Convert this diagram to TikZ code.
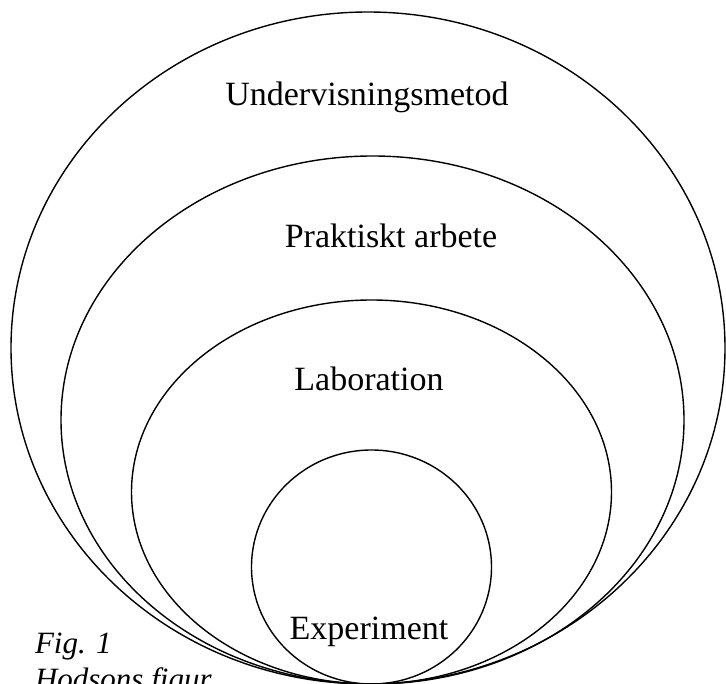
\documentclass[tikz,border=0pt]{standalone}
\usepackage{fontspec}
\setmainfont{Liberation Serif}
\usetikzlibrary{shapes.geometric}

\def \ringline {1.4pt}
\def \labelsize {34}

\begin{document}
\begin{tikzpicture}[x=1pt, y=-1pt, line width=\ringline,
  ring/.style={draw, ellipse, inner sep=0pt, outer sep=0pt},
  ringlabel/.style={anchor=base, font=\fontsize{\labelsize}{40}\selectfont},
  caption/.style={anchor=base west, font=\itshape\fontsize{31}{36}\selectfont}]
\useasboundingbox (0,0) rectangle (726,684);
\clip (0,0) rectangle (726,684);
% nested rings, all touching the bottom edge
\node[ring, minimum width=714pt, minimum height=672pt] (metod) at (368,348) {};
\node[ring, minimum width=623pt, minimum height=528pt] (praktiskt) at (372.5,420) {};
\node[ring, minimum width=480pt, minimum height=384pt] (labb) at (371.5,492) {};
\node[ring, minimum width=240pt, minimum height=234pt] (exp) at (371.5,567) {};
% labels
\node[ringlabel] (metodtext) at (367,106) {Undervisningsmetod};
\node[ringlabel] (praktisktext) at (391,248) {Praktiskt arbete};
\node[ringlabel] (labbtext) at (369,391) {Laboration};
\node[ringlabel] (exptext) at (369,639) {Experiment};
% caption
\node[caption] (fig) at (31,653) {Fig. 1};
\node[caption] (hodson) at (31,689) {Hodsons figur};
\end{tikzpicture}
\end{document}
